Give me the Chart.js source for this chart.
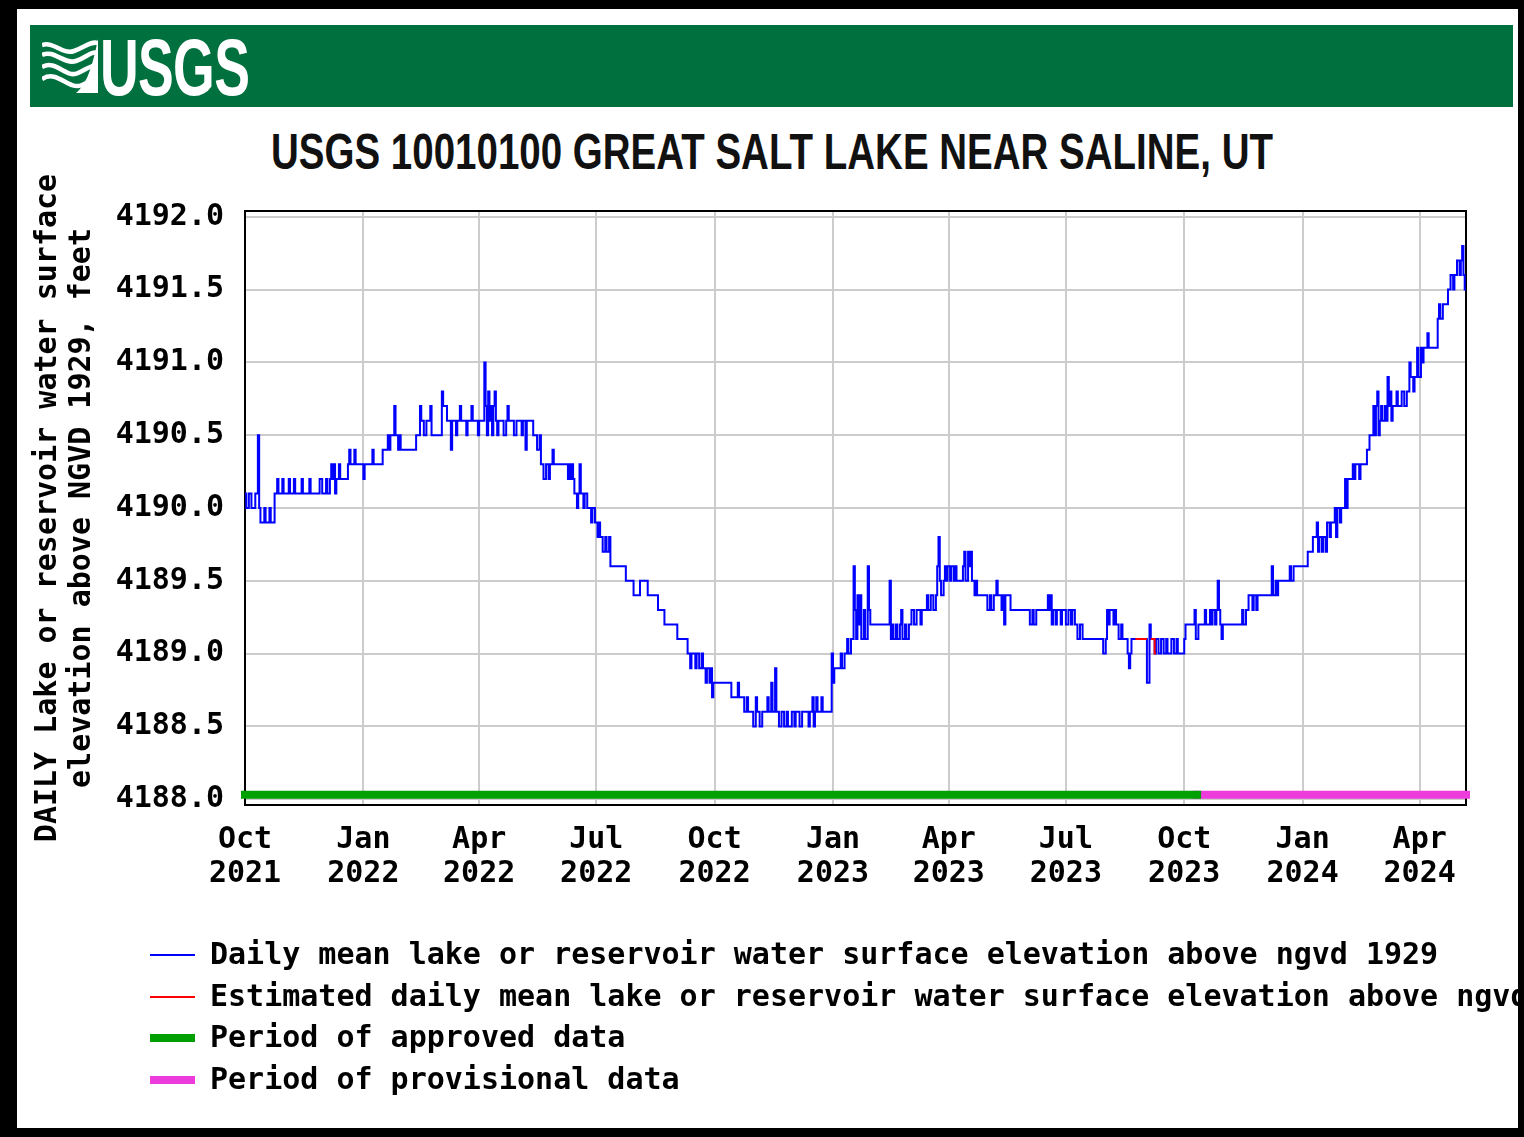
<!DOCTYPE html>
<html>
<head>
<meta charset="utf-8">
<title>USGS 10010100 Great Salt Lake near Saline, UT</title>
<script src="https://cdn.jsdelivr.net/npm/chart.js@4/dist/chart.umd.min.js"></script>
<style>
  html, body { margin: 0; padding: 0; background: #fff; overflow: hidden; }
  #page { position: relative; width: 1524px; height: 1137px; }
  #frame {
    position: absolute; left: 0; top: 0; width: 1524px; height: 1137px;
    box-sizing: border-box; border-style: solid; border-color: #000;
    border-width: 9px 6px 9px 17px;
  }
  #banner { position: absolute; left: 30px; top: 25px; width: 1483px; height: 82px; background: #00703f; }
  #banner svg { position: absolute; left: 12px; top: 14px; }
  #banner .usgs {
    position: absolute; left: 70px; top: 3px; color: #fff;
    font: bold 80px/80px "Liberation Sans", Arial, sans-serif;
    transform: scaleX(0.67); transform-origin: left top; letter-spacing: -1px;
  }
  #title {
    position: absolute; left: 772px; top: 127px; white-space: nowrap; color: #111;
    font: bold 50px/50px "Liberation Sans", Arial, sans-serif;
    transform: translateX(-50%) scaleX(0.77);
  }
  #gage { position: absolute; left: 0; top: 0; }
</style>
</head>
<body>
<div id="page">
  <div id="frame"></div>
  <div id="banner">
    <svg width="56" height="54" viewBox="0 0 56 54">
      <g fill="none" stroke="#fff" stroke-width="4.5" stroke-linecap="butt">
        <path d="M0 6 C12 2 20 16 32 12 S48 2 56 4"/>
        <path d="M0 16 C12 10 22 26 34 22 S48 12 56 14"/>
        <path d="M0 28 C14 20 24 40 36 34 S50 26 56 26"/>
        <path d="M0 40 C16 30 26 52 40 46 S52 38 56 38"/>
      </g>
      <path d="M56 0 L56 54 L34 54 C44 46 50 30 56 0 Z" fill="#fff"/>
    </svg>
    <span class="usgs">USGS</span>
  </div>
  <div id="title">USGS 10010100 GREAT SALT LAKE NEAR SALINE, UT</div>
  <canvas id="gage" width="1524" height="1137"></canvas>
</div>

<script>
// days are counted from 1 Oct 2021
const tickDays = [0, 92, 182, 273, 365, 457, 547, 638, 730, 822, 913];
const tickMonths = ['Oct', 'Jan', 'Apr', 'Jul', 'Oct', 'Jan', 'Apr', 'Jul', 'Oct', 'Jan', 'Apr'];
const tickYears = ['2021', '2022', '2022', '2022', '2022', '2023', '2023', '2023', '2023', '2024', '2024'];
const elevationTicks = [4188.0, 4188.5, 4189.0, 4189.5, 4190.0, 4190.5, 4191.0, 4191.5, 4192.0];
const firstDay = 0;
const lastDay = 949;

// periods of approved / provisional record, [start day, end day]
const approvedDays = [0, 740];
const provisionalDays = [740, 949];
const periodLevel = 4188.03;

// daily mean elevation, feet: [day the value starts, value]
const dailyMean = [
  [0, 4190.1], [1, 4190.0], [3, 4190.1], [5, 4190.0], [8, 4190.1], [10, 4190.5], [11, 4190.0], [12, 4189.9],
  [15, 4190.0], [16, 4189.9], [19, 4190.0], [20, 4189.9], [23, 4190.1], [25, 4190.2], [26, 4190.1], [29, 4190.2],
  [30, 4190.1], [34, 4190.2], [35, 4190.1], [38, 4190.2], [39, 4190.1], [44, 4190.2], [45, 4190.1], [50, 4190.2],
  [51, 4190.1], [58, 4190.2], [60, 4190.1], [63, 4190.2], [64, 4190.1], [66, 4190.2], [67, 4190.3], [68, 4190.2],
  [69, 4190.3], [70, 4190.1], [71, 4190.2], [73, 4190.3], [74, 4190.2], [80, 4190.3], [81, 4190.4], [82, 4190.3],
  [85, 4190.4], [86, 4190.3], [92, 4190.2], [93, 4190.3], [99, 4190.4], [100, 4190.3], [107, 4190.4], [111, 4190.5],
  [112, 4190.4], [113, 4190.5], [116, 4190.7], [117, 4190.5], [119, 4190.4], [120, 4190.5], [121, 4190.4], [133, 4190.5],
  [136, 4190.7], [137, 4190.6], [139, 4190.5], [141, 4190.6], [144, 4190.7], [145, 4190.5], [153, 4190.8], [154, 4190.7],
  [157, 4190.6], [160, 4190.4], [161, 4190.6], [164, 4190.5], [165, 4190.6], [167, 4190.7], [168, 4190.6], [172, 4190.5],
  [173, 4190.6], [176, 4190.7], [177, 4190.6], [181, 4190.5], [182, 4190.6], [186, 4191.0], [187, 4190.7], [188, 4190.5],
  [189, 4190.8], [190, 4190.6], [191, 4190.7], [192, 4190.5], [193, 4190.7], [194, 4190.8], [195, 4190.6], [196, 4190.5],
  [197, 4190.6], [201, 4190.5], [203, 4190.6], [204, 4190.7], [205, 4190.6], [209, 4190.5], [211, 4190.6], [215, 4190.5],
  [216, 4190.6], [218, 4190.4], [219, 4190.6], [224, 4190.5], [227, 4190.4], [229, 4190.5], [230, 4190.3], [232, 4190.2],
  [234, 4190.3], [236, 4190.2], [237, 4190.3], [239, 4190.4], [240, 4190.3], [251, 4190.2], [252, 4190.3], [253, 4190.2],
  [254, 4190.3], [255, 4190.2], [256, 4190.1], [258, 4190.0], [259, 4190.1], [260, 4190.3], [261, 4190.1], [263, 4190.0],
  [264, 4190.1], [266, 4190.0], [269, 4189.9], [270, 4190.0], [272, 4189.9], [274, 4189.8], [275, 4189.9], [276, 4189.8],
  [278, 4189.7], [280, 4189.8], [281, 4189.7], [283, 4189.8], [284, 4189.6], [296, 4189.5], [302, 4189.4], [307, 4189.5],
  [313, 4189.4], [321, 4189.3], [326, 4189.2], [336, 4189.1], [344, 4189.0], [346, 4188.9], [347, 4189.0], [350, 4188.9],
  [351, 4189.0], [353, 4188.9], [355, 4189.0], [356, 4188.9], [358, 4188.8], [359, 4188.9], [361, 4188.8], [362, 4188.9],
  [363, 4188.7], [364, 4188.8], [378, 4188.7], [383, 4188.8], [384, 4188.7], [388, 4188.6], [390, 4188.7], [391, 4188.6],
  [395, 4188.5], [397, 4188.7], [398, 4188.6], [400, 4188.5], [402, 4188.6], [406, 4188.7], [407, 4188.6], [409, 4188.8],
  [410, 4188.6], [412, 4188.9], [413, 4188.6], [415, 4188.5], [417, 4188.6], [419, 4188.5], [421, 4188.6], [422, 4188.5],
  [425, 4188.6], [427, 4188.5], [428, 4188.6], [431, 4188.5], [433, 4188.6], [438, 4188.5], [439, 4188.6], [441, 4188.7],
  [442, 4188.5], [443, 4188.6], [444, 4188.7], [445, 4188.6], [448, 4188.7], [449, 4188.6], [456, 4189.0], [457, 4188.8],
  [458, 4188.9], [463, 4189.0], [464, 4188.9], [466, 4189.0], [468, 4189.1], [469, 4189.0], [471, 4189.1], [473, 4189.6],
  [474, 4189.3], [475, 4189.1], [476, 4189.4], [477, 4189.2], [478, 4189.4], [479, 4189.1], [481, 4189.3], [482, 4189.1],
  [484, 4189.6], [485, 4189.3], [486, 4189.2], [501, 4189.5], [502, 4189.1], [503, 4189.2], [504, 4189.1], [506, 4189.2],
  [507, 4189.1], [509, 4189.2], [510, 4189.3], [511, 4189.1], [513, 4189.2], [514, 4189.1], [516, 4189.2], [518, 4189.3],
  [520, 4189.2], [522, 4189.3], [525, 4189.2], [526, 4189.3], [530, 4189.4], [531, 4189.3], [533, 4189.4], [535, 4189.3],
  [537, 4189.4], [538, 4189.6], [539, 4189.8], [540, 4189.5], [541, 4189.4], [543, 4189.5], [544, 4189.6], [545, 4189.5],
  [546, 4189.6], [548, 4189.5], [549, 4189.6], [551, 4189.5], [552, 4189.6], [553, 4189.5], [558, 4189.6], [559, 4189.7],
  [560, 4189.5], [562, 4189.7], [563, 4189.6], [564, 4189.7], [565, 4189.5], [567, 4189.4], [568, 4189.5], [569, 4189.4],
  [577, 4189.3], [579, 4189.4], [580, 4189.3], [582, 4189.4], [584, 4189.5], [585, 4189.4], [588, 4189.3], [589, 4189.4],
  [590, 4189.2], [591, 4189.4], [595, 4189.3], [610, 4189.2], [612, 4189.3], [613, 4189.2], [615, 4189.3], [624, 4189.4],
  [625, 4189.3], [626, 4189.4], [627, 4189.2], [628, 4189.3], [630, 4189.2], [631, 4189.3], [634, 4189.2], [635, 4189.3],
  [638, 4189.2], [640, 4189.3], [642, 4189.2], [643, 4189.3], [645, 4189.2], [647, 4189.1], [649, 4189.2], [651, 4189.1],
  [667, 4189.0], [669, 4189.1], [670, 4189.3], [671, 4189.2], [672, 4189.3], [675, 4189.2], [676, 4189.3], [677, 4189.2],
  [679, 4189.1], [681, 4189.2], [682, 4189.1], [686, 4189.0], [687, 4188.9], [688, 4189.0], [689, 4189.1], [701, 4188.8],
  [703, 4189.2], [704, 4189.1], [707, 4189.0], [708, 4189.1], [710, 4189.0], [712, 4189.1], [714, 4189.0], [716, 4189.1],
  [717, 4189.0], [720, 4189.1], [722, 4189.0], [724, 4189.1], [725, 4189.0], [730, 4189.1], [731, 4189.2], [738, 4189.3],
  [739, 4189.1], [741, 4189.2], [746, 4189.3], [747, 4189.2], [750, 4189.3], [751, 4189.2], [752, 4189.3], [754, 4189.2],
  [755, 4189.3], [756, 4189.5], [757, 4189.3], [758, 4189.2], [759, 4189.1], [760, 4189.2], [775, 4189.3], [776, 4189.2],
  [778, 4189.3], [780, 4189.4], [783, 4189.3], [784, 4189.4], [786, 4189.3], [787, 4189.4], [798, 4189.6], [799, 4189.4],
  [801, 4189.5], [802, 4189.4], [803, 4189.5], [812, 4189.6], [813, 4189.5], [815, 4189.6], [826, 4189.7], [830, 4189.8],
  [833, 4189.9], [834, 4189.7], [835, 4189.8], [837, 4189.7], [838, 4189.8], [840, 4189.7], [841, 4189.9], [843, 4189.8],
  [844, 4189.9], [847, 4190.0], [848, 4189.8], [849, 4190.0], [851, 4189.9], [852, 4190.0], [855, 4190.2], [856, 4190.0],
  [857, 4190.2], [861, 4190.3], [862, 4190.2], [863, 4190.3], [866, 4190.2], [867, 4190.3], [872, 4190.4], [874, 4190.5],
  [877, 4190.7], [878, 4190.5], [879, 4190.7], [880, 4190.8], [881, 4190.5], [882, 4190.6], [883, 4190.7], [884, 4190.6],
  [886, 4190.7], [887, 4190.6], [888, 4190.9], [889, 4190.7], [890, 4190.8], [891, 4190.6], [892, 4190.7], [895, 4190.8],
  [896, 4190.7], [899, 4190.8], [901, 4190.7], [903, 4190.8], [905, 4191.0], [906, 4190.9], [908, 4190.8], [909, 4190.9],
  [911, 4191.1], [912, 4190.9], [914, 4191.1], [915, 4191.0], [916, 4191.1], [919, 4191.2], [920, 4191.1], [927, 4191.3],
  [928, 4191.4], [929, 4191.3], [931, 4191.4], [935, 4191.5], [937, 4191.6], [939, 4191.5], [940, 4191.6], [942, 4191.7],
  [944, 4191.6], [945, 4191.7], [946, 4191.8], [947, 4191.6], [948, 4191.5], [949, 4191.5]
];

// estimated daily means (null breaks the line)
const estimatedMean = [[692, 4189.1], [701, 4189.1], [701, null], [704, 4189.1], [707, 4189.0], [708, 4189.0]];

const MONO = '"DejaVu Sans Mono", "Liberation Mono", monospace';

function toPoints(rows) {
  return rows.map(r => ({ x: r[0], y: r[1] }));
}

function periodLine(range) {
  return range.map(d => ({ x: d, y: periodLevel }));
}

// black box round the plotting area
const plotFrame = {
  id: 'plotFrame',
  beforeDatasetsDraw(chart) {
    const { ctx, chartArea: a } = chart;
    ctx.save();
    ctx.strokeStyle = '#000';
    ctx.lineWidth = 2;
    ctx.strokeRect(a.left, a.top, a.right - a.left, a.bottom - a.top);
    ctx.restore();
  }
};

// one legend entry per row under the x axis
const rowLegend = {
  id: 'rowLegend',
  afterDraw(chart) {
    const ctx = chart.ctx;
    const rows = [955, 997, 1038, 1080];
    ctx.save();
    ctx.font = 'bold 30px ' + MONO;
    ctx.textBaseline = 'middle';
    ctx.fillStyle = '#000';
    chart.data.datasets.forEach((ds, i) => {
      const y = rows[i];
      ctx.strokeStyle = ds.borderColor;
      ctx.lineWidth = ds.borderWidth;
      ctx.beginPath();
      ctx.moveTo(150, y);
      ctx.lineTo(195, y);
      ctx.stroke();
      ctx.fillText(ds.label, 210, y + 1);
    });
    ctx.restore();
  }
};

new Chart(document.getElementById('gage'), {
  type: 'line',
  data: {
    datasets: [
      {
        label: 'Daily mean lake or reservoir water surface elevation above ngvd 1929',
        data: toPoints(dailyMean),
        borderColor: '#0000ff',
        borderWidth: 2,
        stepped: true,
        order: 1
      },
      {
        label: 'Estimated daily mean lake or reservoir water surface elevation above ngvd 1929',
        data: toPoints(estimatedMean),
        borderColor: '#ff0000',
        borderWidth: 2,
        stepped: true,
        spanGaps: false,
        order: 0
      },
      {
        label: 'Period of approved data',
        data: periodLine(approvedDays),
        borderColor: '#00a000',
        borderWidth: 8,
        borderCapStyle: 'square',
        clip: false,
        order: 2
      },
      {
        label: 'Period of provisional data',
        data: periodLine(provisionalDays),
        borderColor: '#ee3cdc',
        borderWidth: 8,
        borderCapStyle: 'square',
        clip: false,
        order: 2
      }
    ]
  },
  options: {
    responsive: false,
    animation: false,
    events: [],
    elements: { point: { radius: 0 }, line: { tension: 0 } },
    layout: { padding: { top: 211, left: 16, right: 58, bottom: 232 } },
    plugins: { legend: { display: false }, tooltip: { enabled: false }, title: { display: false } },
    scales: {
      x: {
        type: 'linear',
        min: firstDay,
        max: lastDay,
        afterBuildTicks(scale) { scale.ticks = tickDays.map(v => ({ value: v })); },
        afterFit(scale) { scale.height = 100; },
        border: { display: false },
        grid: { color: '#cccccc', lineWidth: 2, drawTicks: false },
        ticks: {
          autoSkip: false,
          maxRotation: 0,
          padding: 18,
          color: '#000',
          font: { family: MONO, size: 30, weight: 'bold', lineHeight: '34px' },
          callback(value) {
            const i = tickDays.indexOf(value);
            return [tickMonths[i], tickYears[i]];
          }
        }
      },
      y: {
        min: 4187.96,
        max: 4192.04,
        afterBuildTicks(scale) { scale.ticks = elevationTicks.map(v => ({ value: v })); },
        afterFit(scale) { scale.width = 229; },
        border: { display: false },
        grid: { color: '#cccccc', lineWidth: 2, drawTicks: false },
        ticks: {
          padding: 21,
          color: '#000',
          font: { family: MONO, size: 30, weight: 'bold' },
          callback: v => v.toFixed(1)
        },
        title: {
          display: true,
          text: ['DAILY Lake or reservoir water surface', 'elevation above NGVD 1929, feet'],
          color: '#000',
          padding: { top: 15, bottom: 0 },
          font: { family: MONO, size: 30, weight: 'bold', lineHeight: '34px' }
        }
      }
    }
  },
  plugins: [plotFrame, rowLegend]
});
</script>
</body>
</html>
